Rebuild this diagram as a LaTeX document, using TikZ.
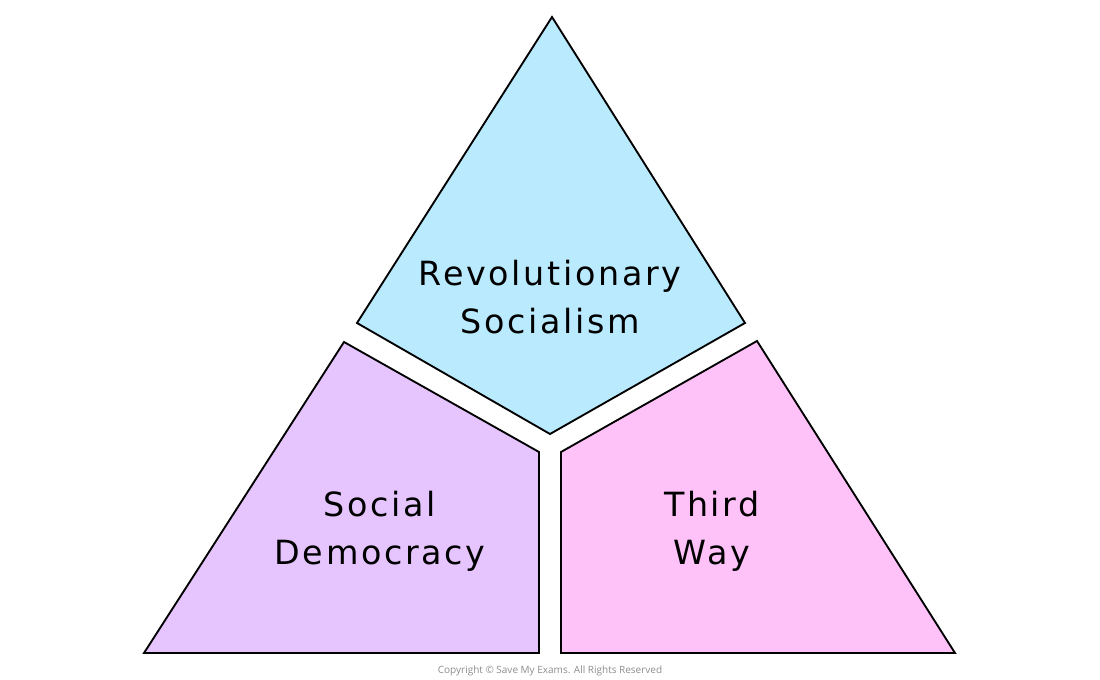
\documentclass[tikz,border=0pt]{standalone}
\usepackage{fontspec}
\setmainfont{DejaVu Sans}
\newfontfamily\labelfont[LetterSpace=8]{DejaVu Sans}
\newfontfamily\copyfont{Open Sans}
\usetikzlibrary{positioning}

\definecolor{revblue}{HTML}{BAEAFE}
\definecolor{socviolet}{HTML}{E6C5FE}
\definecolor{thirdpink}{HTML}{FEC2F9}

\tikzset{
	piece/.style = {draw = black, line width = 1.4pt, line join = miter},
	label/.style = {align = center, font = \labelfont\fontsize{25}{36}\selectfont}
}

\begin{document}
\begin{tikzpicture}[x = 0.75pt, y = -0.75pt]
	\useasboundingbox (0, 0) rectangle (1100, 680);
	\draw [piece, fill = revblue] (552, 17) -- (745, 323) -- (550, 434) -- (357, 323) -- cycle;
	\draw [piece, fill = socviolet] (344, 342) -- (539, 452) -- (539, 653) -- (144, 653) -- cycle;
	\draw [piece, fill = thirdpink] (757, 341) -- (955, 653) -- (561, 653) -- (561, 452) -- cycle;
	\node [label] (rev) at (550, 297) {Revolutionary\\Socialism};
	\node [label] (soc) at (380, 531) {Social\\Democracy};
	\node [label] (third) at (712, 531) {Third\\Way};
	\node [text = black!45, font = \copyfont\fontsize{7.5}{9}\selectfont] (copy) at (550, 671) {Copyright © Save My Exams. All Rights Reserved};
\end{tikzpicture}
\end{document}
